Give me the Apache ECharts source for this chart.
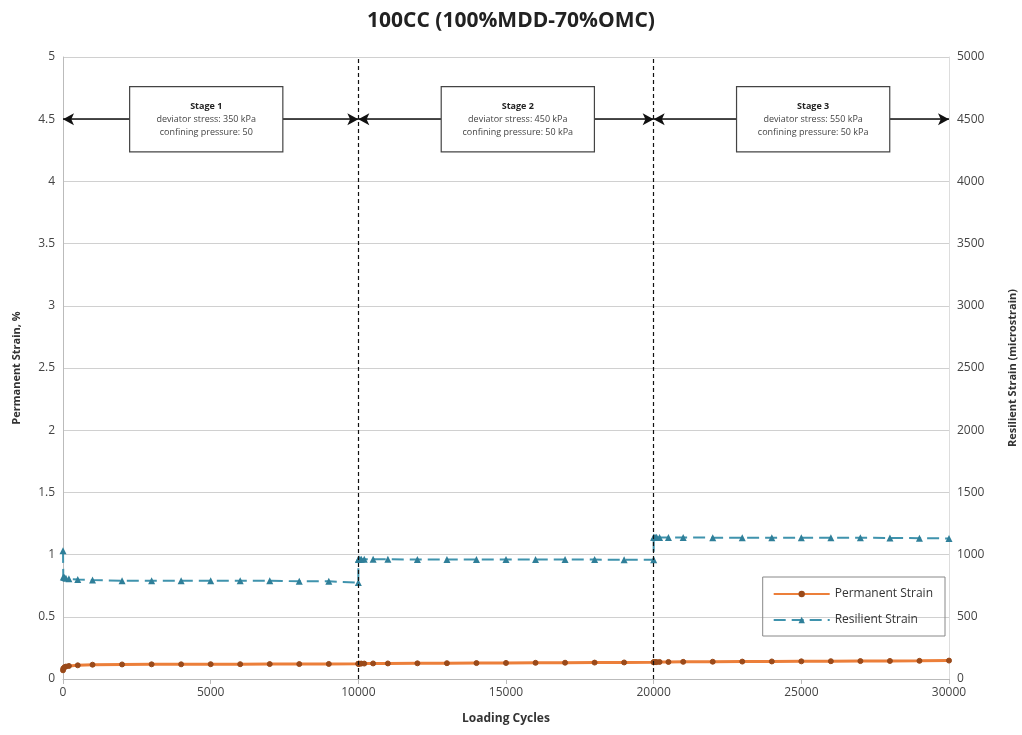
<!DOCTYPE html>
<html><head><meta charset="utf-8">
<script src="https://cdn.jsdelivr.net/npm/echarts@6/dist/echarts.min.js"></script>
<style>html,body{margin:0;padding:0;background:#fff}#c{width:1022px;height:735px}</style>
</head><body><div id="c"></div>
<script>
const cycles = [1,10,50,100,200,500,1000,2000,3000,4000,5000,6000,7000,8000,9000,10000,
  10001,10010,10050,10100,10200,10500,11000,12000,13000,14000,15000,16000,17000,18000,19000,20000,
  20001,20010,20050,20100,20200,20500,21000,22000,23000,24000,25000,26000,27000,28000,29000,30000];
const permanentStrain = [0.07,0.085,0.095,0.100,0.105,0.110,0.115,0.117,0.118,0.118,0.119,0.119,0.120,0.120,0.121,0.122,
  0.122,0.123,0.123,0.124,0.124,0.125,0.125,0.126,0.127,0.128,0.129,0.130,0.131,0.132,0.133,0.134,
  0.135,0.135,0.136,0.136,0.137,0.137,0.138,0.139,0.140,0.141,0.142,0.143,0.144,0.145,0.146,0.148];
const resilientStrain = [1030,820,815,810,805,800,795,790,790,790,790,790,790,785,785,775,
  960,965,965,963,962,962,962,960,960,960,960,960,960,960,958,958,
  1140,1140,1140,1140,1138,1138,1138,1136,1136,1136,1136,1135,1135,1134,1132,1130];
const xTicks = {min:0, max:30000, interval:5000};
const stages = [
  {from:0, to:10000, center:4850, title:'Stage 1', l1:'deviator stress: 350 kPa', l2:'confining pressure: 50'},
  {from:10000, to:20000, center:15400, title:'Stage 2', l1:'deviator stress: 450 kPa', l2:'confining pressure: 50 kPa'},
  {from:20000, to:30000, center:25400, title:'Stage 3', l1:'deviator stress: 550 kPa', l2:'confining pressure: 50 kPa'}
];
const arrowY = 4.5;

const chart = echarts.init(document.getElementById('c'));
const font = 'Open Sans, Liberation Sans, sans-serif';
const plain = v => String(v);
chart.setOption({
  animation:false,
  title:{text:'100CC (100%MDD-70%OMC)', left:'center', top:6, textStyle:{fontFamily:font, fontSize:21, fontWeight:'bold', color:'#222'}},
  grid:{left:63, right:73, top:57, bottom:56, containLabel:false, outerBoundsMode:'none'},
  legend:{orient:'vertical', right:77, top:577, itemGap:14, padding:[11,12,10,10], borderColor:'#888', borderWidth:1,
    itemWidth:56, itemHeight:8, textStyle:{fontFamily:font, fontSize:12, color:'#333'},
    data:['Permanent Strain','Resilient Strain']},
  xAxis:{type:'value', min:xTicks.min, max:xTicks.max, interval:xTicks.interval,
    name:'Loading Cycles', nameLocation:'middle', nameGap:34, nameTextStyle:{fontFamily:font, fontSize:12, fontWeight:'bold', color:'#333'},
    axisLine:{show:true, lineStyle:{color:'#bbb'}}, axisTick:{show:true, lineStyle:{color:'#bbb'}},
    axisLabel:{fontFamily:font, fontSize:12, color:'#444', formatter:plain}, splitLine:{show:false}},
  yAxis:[
    {type:'value', min:0, max:5, interval:0.5, name:'Permanent Strain, %', nameLocation:'middle', nameGap:41,
      nameTextStyle:{fontFamily:font, fontSize:11, fontWeight:'bold', color:'#333'},
      axisLine:{show:true, lineStyle:{color:'#bbb'}}, axisTick:{show:false},
      axisLabel:{fontFamily:font, fontSize:12, color:'#444', formatter:plain}, splitLine:{lineStyle:{color:'#d0d0d0'}}},
    {type:'value', min:0, max:5000, interval:500, name:'Resilient Strain (microstrain)', nameLocation:'middle', nameGap:58,
      nameRotate:90,
      nameTextStyle:{fontFamily:font, fontSize:11, fontWeight:'bold', color:'#333'},
      axisLine:{show:true, lineStyle:{color:'#ddd'}}, axisTick:{show:false},
      axisLabel:{fontFamily:font, fontSize:12, color:'#444', formatter:plain}, splitLine:{show:false}}
  ],
  series:[
    {name:'Permanent Strain', type:'line', yAxisIndex:0,
      data:cycles.map((c,i)=>[c,permanentStrain[i]]),
      symbol:'circle', symbolSize:5, showAllSymbol:true,
      lineStyle:{color:'#ec7f3a', width:3}, itemStyle:{color:'#9a4a1a', borderColor:'#9a4a1a'},
      color:'#ec7f3a', z:3,
      markLine:{silent:true, symbol:['arrow','arrow'], symbolSize:[9,11], label:{show:false},
        lineStyle:{color:'#111', type:'solid', width:1.5},
        data:stages.map(s=>[{coord:[s.from,arrowY]},{coord:[s.to,arrowY]}]).concat(
          [10000,20000].map(v=>[{coord:[v,0],symbol:'none'},{coord:[v,5],symbol:'none',lineStyle:{type:[4,3],width:1.2,color:'#111'}}]))
      },
      markPoint:{silent:true, symbol:'rect', symbolSize:1, itemStyle:{color:'rgba(0,0,0,0)'},
        data:stages.map(s=>({coord:[s.center,arrowY],
          label:{show:true, position:'inside', backgroundColor:'#fff', borderColor:'#444', borderWidth:1.2,
            width:136, padding:[12,8], align:'center', verticalAlign:'middle',
            formatter:'{t|'+s.title+'}\n{n|'+s.l1+'}\n{n|'+s.l2+'}',
            rich:{t:{fontFamily:font, fontSize:9, fontWeight:'bold', color:'#222', lineHeight:14, align:'center'},
                  n:{fontFamily:font, fontSize:9, color:'#444', lineHeight:13, align:'center'}}}}))
      }
    },
    {name:'Resilient Strain', type:'line', yAxisIndex:1,
      data:cycles.map((c,i)=>[c,resilientStrain[i]]),
      symbol:'triangle', symbolSize:7, showAllSymbol:true,
      lineStyle:{color:'#3f93ad', width:2, type:[12,6]}, itemStyle:{color:'#2f7f99'},
      color:'#3f93ad', z:4}
  ]
});
</script></body></html>
